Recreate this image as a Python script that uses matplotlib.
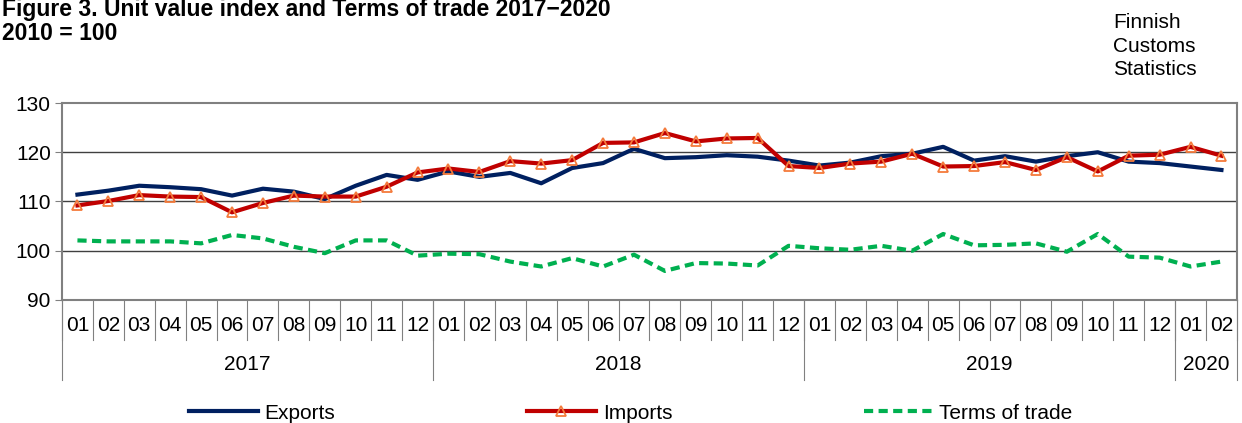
import matplotlib.pyplot as plt
import matplotlib.transforms as mtransforms
import numpy as np

plt.rcParams['font.family'] = ['Liberation Sans', 'DejaVu Sans']

# ----------------------------
# data
# ----------------------------
months = ["01", "02", "03", "04", "05", "06", "07", "08", "09", "10", "11", "12"] * 3 + ["01", "02"]
years = ["2017", "2018", "2019", "2020"]
year_lengths = [12, 12, 12, 2]

exports = [111.4, 112.2, 113.2, 112.9, 112.5, 111.2, 112.6, 112.0, 110.5, 113.2, 115.4, 114.4,
           116.1, 115.0, 115.8, 113.7, 116.8, 117.8, 120.7, 118.8, 119.0, 119.4, 119.1, 118.3,
           117.3, 117.9, 119.2, 119.7, 121.1, 118.3, 119.2, 118.1, 119.2, 120.0, 118.1, 117.8,
           117.1, 116.4]
imports = [109.2, 110.1, 111.3, 111.0, 110.9, 107.8, 109.7, 111.2, 111.0, 111.0, 113.0, 115.9,
           116.7, 116.0, 118.2, 117.7, 118.4, 121.9, 122.0, 123.9, 122.2, 122.8, 122.9, 117.2,
           116.8, 117.7, 118.1, 119.7, 117.1, 117.2, 118.0, 116.4, 119.0, 116.1, 119.3, 119.5,
           121.1, 119.3]
terms_of_trade = [102.1, 101.9, 101.9, 101.9, 101.5, 103.2, 102.5, 100.8, 99.5, 102.1, 102.1, 99.0,
                  99.4, 99.3, 97.8, 96.8, 98.5, 96.8, 99.2, 95.9, 97.5, 97.4, 97.0, 101.0,
                  100.5, 100.2, 101.0, 100.0, 103.4, 101.1, 101.2, 101.5, 99.8, 103.4, 98.8, 98.6,
                  96.8, 97.8]

x = np.arange(len(months))

fig = plt.figure(figsize=(12.42, 4.23), dpi=100)
ax = fig.add_axes([0.0499, 0.2908, 0.946, 0.4657])

ax.plot(x, exports, color="#002060", lw=3, label="Exports", zorder=3)
ax.plot(x, imports, color="#C00000", lw=3, marker="^", ms=7, mfc="none",
        mec="#F47B3C", mew=1.3, label="Imports", zorder=4)
ax.plot(x, terms_of_trade, color="#00B050", lw=3, ls=(0, (2.2, 1.3)), label="Terms of trade", zorder=3)

ax.set_xlim(-0.5, len(months) - 0.5)
ax.set_ylim(90, 130)
ax.set_yticks([90, 100, 110, 120, 130])
ax.tick_params(axis="y", labelsize=15, length=5, color="#808080", pad=3)
ax.set_xticks([])
for v in [100, 110, 120]:
    ax.axhline(v, color="#404040", lw=1, zorder=1)
for s in ax.spines.values():
    s.set_color("#808080")
    s.set_linewidth(1.5)

# two-level category axis: months and years
trans = mtransforms.blended_transform_factory(ax.transData, ax.transAxes)
for i in range(len(months) + 1):
    ax.plot([i - 0.5, i - 0.5], [0, -0.203], transform=trans, color="#808080", lw=0.8, clip_on=False)
for i, m in enumerate(months):
    ax.text(i, -0.132, m, transform=trans, ha="center", va="center", fontsize=15)
start = 0
for yr, n in zip(years, year_lengths):
    ax.plot([start - 0.5, start - 0.5], [0, -0.406], transform=trans, color="#808080", lw=0.8, clip_on=False)
    ax.text(start + n / 2 - 0.5, -0.33, yr, transform=trans, ha="center", va="center", fontsize=15)
    start += n
ax.plot([start - 0.5, start - 0.5], [0, -0.406], transform=trans, color="#808080", lw=0.8, clip_on=False)

fig.text(0.002, 1 - 16 / 423, "Figure 3. Unit value index and Terms of trade 2017\u22122020",
         fontsize=16.5, fontweight="bold", va="baseline", ha="left")
fig.text(0.002, 1 - 40 / 423, "2010 = 100", fontsize=16.5, fontweight="bold", va="baseline", ha="left")
fig.text(1113 / 1242, 1 - 46 / 423, "Finnish\nCustoms\nStatistics", fontsize=15, va="center", ha="left",
         linespacing=1.28)

fig.legend(loc="center left", bbox_to_anchor=(189 / 1242, 1 - 413 / 423), ncol=3, frameon=False,
           fontsize=15, handlelength=3.3, handletextpad=0.33, columnspacing=9.2,
           borderpad=0, borderaxespad=0)

fig.savefig("out.png", dpi=100)
